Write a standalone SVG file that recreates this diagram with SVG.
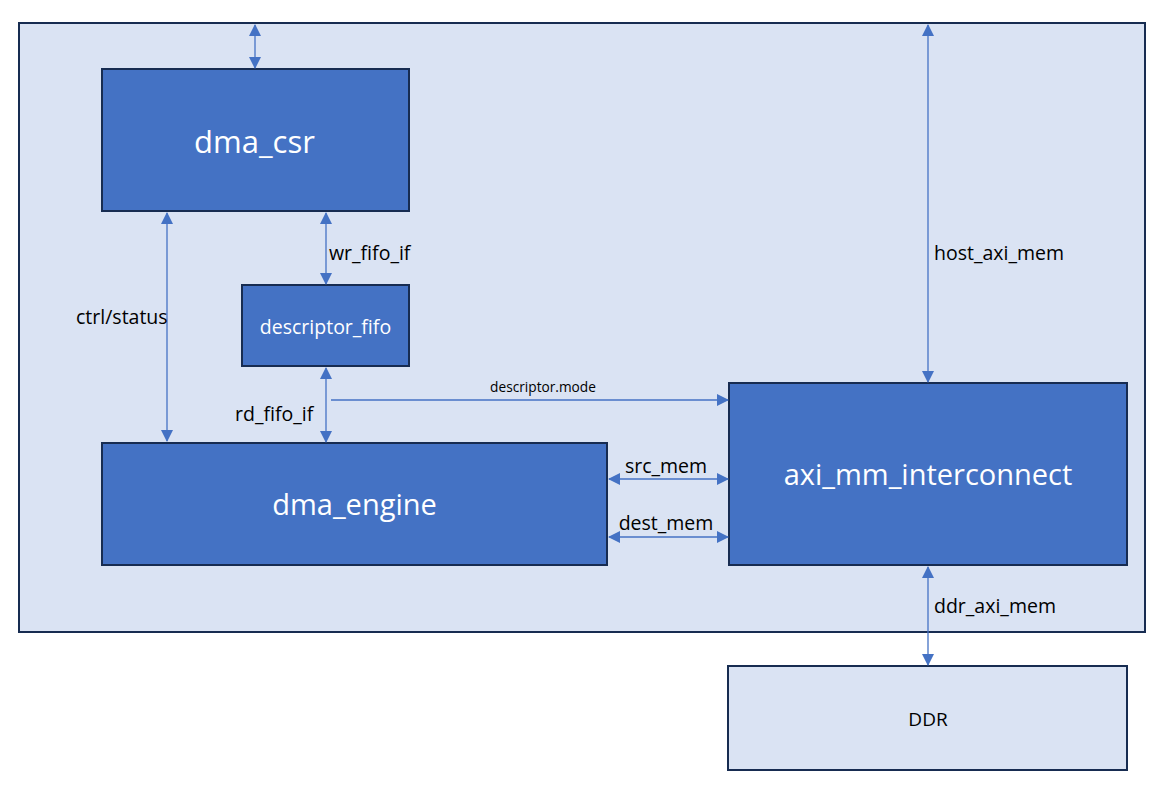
<svg xmlns="http://www.w3.org/2000/svg" width="1167" height="787" viewBox="0 0 1167 787">
<defs>
<marker id="ah" viewBox="0 0 12 12" refX="11" refY="6" markerWidth="12" markerHeight="12" markerUnits="userSpaceOnUse" orient="auto-start-reverse">
<path d="M0,0 L12,6 L0,12 Z" fill="#4472c4"/>
</marker>
</defs>
<style>
.outer{fill:#dae3f3;stroke:#172c51;stroke-width:2}
.blk{fill:#4472c4;stroke:#172c51;stroke-width:2}
.lt{fill:#dae3f3;stroke:#172c51;stroke-width:2}
.big{font-family:"Open Sans","Noto Sans",sans-serif;fill:#fff;text-anchor:middle}
.lbl{font-family:"Open Sans","Noto Sans",sans-serif;font-size:19.5px;fill:#000}
.sm{font-size:13.7px}
.dd{font-size:19px}
.c{stroke:#4472c4;stroke-width:1.3;fill:none}
.bi{marker-start:url(#ah);marker-end:url(#ah)}
</style>
<rect width="1167" height="787" fill="#fff"/>
<rect id="top" class="outer" x="19" y="23" width="1126" height="609"/>
<g id="dma_csr"><rect class="blk" x="102" y="69" width="307" height="142"/><text class="big" x="254.5" y="153" font-size="31">dma_csr</text></g>
<g id="descriptor_fifo"><rect class="blk" x="242" y="285" width="167" height="81"/><text class="big" x="325.5" y="334" font-size="19.5">descriptor_fifo</text></g>
<g id="dma_engine"><rect class="blk" x="102" y="443" width="505" height="122"/><text class="big" x="354.5" y="515" font-size="29">dma_engine</text></g>
<g id="axi_mm_interconnect"><rect class="blk" x="729" y="383" width="398" height="182"/><text class="big" x="928" y="485" font-size="29">axi_mm_interconnect</text></g>
<g id="DDR"><rect class="lt" x="728" y="666" width="399" height="104"/><text class="lbl dd" x="928" y="726" text-anchor="middle">DDR</text></g>
<g id="connectors">
<line class="c bi" x1="255" y1="25" x2="255" y2="68"/>
<line class="c bi" x1="167" y1="213" x2="167" y2="441"/>
<line class="c bi" x1="326" y1="213" x2="326" y2="284"/>
<line class="c bi" x1="326" y1="368" x2="326" y2="442"/>
<line class="c" x1="331" y1="400" x2="728" y2="400" marker-end="url(#ah)"/>
<line class="c bi" x1="609" y1="479" x2="728" y2="479"/>
<line class="c bi" x1="609" y1="537" x2="728" y2="537"/>
<line class="c bi" x1="928" y1="25" x2="928" y2="382"/>
<line class="c bi" x1="928" y1="567" x2="928" y2="665"/>
<text class="lbl" x="329" y="260">wr_fifo_if</text>
<text class="lbl" x="76" y="324">ctrl/status</text>
<text class="lbl" x="235" y="421">rd_fifo_if</text>
<text class="lbl sm" x="543" y="392" text-anchor="middle">descriptor.mode</text>
<text class="lbl" x="666" y="473" text-anchor="middle">src_mem</text>
<text class="lbl" x="666" y="530" text-anchor="middle">dest_mem</text>
<text class="lbl" x="934" y="260">host_axi_mem</text>
<text class="lbl" x="934" y="613">ddr_axi_mem</text>
</g>
</svg>
